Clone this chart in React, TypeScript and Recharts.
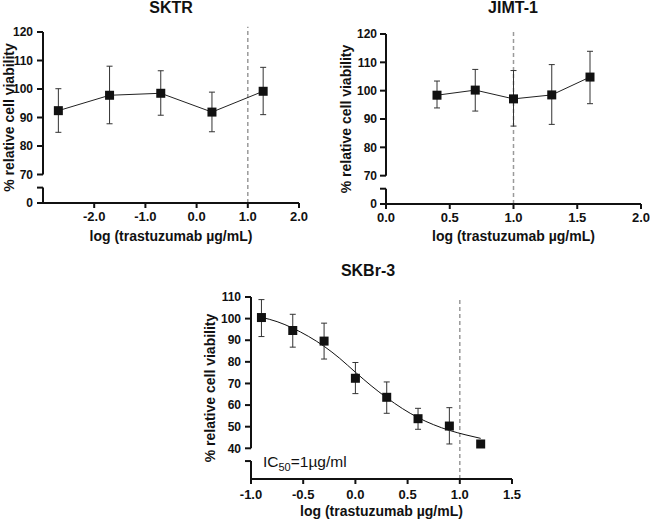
import React from 'react';
import { ComposedChart, Line, XAxis, YAxis, ErrorBar, ReferenceLine } from 'recharts';

const FONT = '"Liberation Sans", Arial, Helvetica, sans-serif';
const INK = '#111';

// SKTR
const sktrDose = [-2.7, -1.7, -0.7, 0.3, 1.3];
const sktrMean = [92.4, 97.8, 98.5, 91.9, 99.2];
const sktrLow = [84.8, 87.8, 90.8, 85.0, 91.0];
const sktrHigh = [100.1, 108.0, 106.4, 98.9, 107.6];
const sktrXTicks = [-2, -1, 0, 1, 2];

// JIMT-1
const jimtDose = [0.4, 0.7, 1.0, 1.3, 1.6];
const jimtMean = [98.4, 100.2, 97.1, 98.5, 104.8];
const jimtLow = [93.9, 92.8, 87.5, 88.1, 95.4];
const jimtHigh = [103.4, 107.5, 107.1, 109.2, 113.9];
const jimtXTicks = [0, 0.5, 1, 1.5, 2];

// SKBr-3
const skbrDose = [-0.9, -0.6, -0.3, 0.0, 0.3, 0.6, 0.9, 1.2];
const skbrMean = [100.5, 94.5, 89.6, 72.4, 63.6, 53.7, 50.3, 42.0];
const skbrLow = [91.7, 86.8, 81.3, 65.3, 56.2, 48.8, 42.0, 41.2];
const skbrHigh = [108.8, 102.0, 97.9, 79.7, 70.7, 58.5, 58.8, 43.6];
// fitted curve
const skbrFitDose = [-0.9, -0.75, -0.6, -0.45, -0.3, -0.15, 0, 0.15, 0.3, 0.45, 0.6, 0.75, 0.9, 1.05, 1.2];
const skbrFit = [100.6, 98.6, 95.6, 91.8, 87.2, 81.6, 75.2, 69.0, 63.4, 58.4, 54.2, 50.9, 48.3, 46.3, 44.6];
const skbrXTicks = [-1, -0.5, 0, 0.5, 1, 1.5];

const topYTicks = [70, 80, 90, 100, 110, 120];
const skbrYTicks = [40, 50, 60, 70, 80, 90, 100, 110];

const X_LABEL = 'log (trastuzumab µg/mL)';
const Y_LABEL = '% relative cell viability';

const toRows = (dose: number[], mean: number[], low: number[], high: number[]) =>
  dose.map((x, i) => ({ x, y: mean[i], err: [mean[i] - low[i], high[i] - mean[i]] }));

const squareDot = (props: any) => {
  const { cx, cy, index } = props;
  if (cx == null || cy == null) return <g key={index} />;
  return <rect key={index} x={cx - 4.5} y={cy - 4.5} width={9} height={9} fill={INK} />;
};

const xTickStyle = { fontSize: 13, fontWeight: 700, fill: INK, fontFamily: FONT };
const yTickStyle = { fontSize: 12, fontWeight: 700, fill: INK, fontFamily: FONT };
const labelStyle = { fontSize: 14, fontWeight: 700, fill: INK, fontFamily: FONT };

type PanelProps = {
  left: number;
  top: number;
  width: number;
  height: number;
  margin: { top: number; right: number; bottom: number; left: number };
  yAxisWidth: number;
  xAxisHeight: number;
  xDomain: [number, number];
  xTicks: number[];
  yBase: number; // fake value where the x axis sits (below the break)
  yCap: number; // top of the short segment below the break
  yResume: number; // where the main axis starts again
  yTop: number;
  yTicks: number[];
  zeroLabel: string;
  rows: { x: number; y: number; err: number[] }[];
  fit?: { x: number; y: number }[];
  dashTop: number;
  yLabelOffset: number;
  xLabelOffset: number;
  xTickMargin: number;
  yTickMargin: number;
};

const Panel = (p: PanelProps) => {
  const x0 = p.xDomain[0];
  const ticks = [...(p.zeroLabel ? [p.yBase] : []), p.yCap, ...p.yTicks];
  return (
    <div style={{ position: 'absolute', left: p.left, top: p.top }}>
      <ComposedChart width={p.width} height={p.height} margin={p.margin}>
        <XAxis
          type="number"
          dataKey="x"
          domain={p.xDomain}
          ticks={p.xTicks}
          allowDataOverflow
          tickFormatter={(v: number) => v.toFixed(1)}
          tick={xTickStyle}
          tickSize={5}
          tickMargin={p.xTickMargin}
          height={p.xAxisHeight}
          axisLine={{ stroke: INK, strokeWidth: 2 }}
          tickLine={{ stroke: INK, strokeWidth: 2 }}
          label={{ value: X_LABEL, position: 'insideBottom', offset: p.xLabelOffset, style: labelStyle }}
        />
        <YAxis
          type="number"
          domain={[p.yBase, p.yTop]}
          ticks={ticks}
          allowDataOverflow
          tickFormatter={(v: number) => (v === p.yBase ? p.zeroLabel : v === p.yCap ? '' : String(v))}
          tick={yTickStyle}
          tickSize={6}
          tickMargin={p.yTickMargin}
          width={p.yAxisWidth}
          axisLine={false}
          tickLine={{ stroke: INK, strokeWidth: 2 }}
          label={{
            value: Y_LABEL,
            angle: -90,
            position: 'insideLeft',
            offset: p.yLabelOffset,
            style: { ...labelStyle, textAnchor: 'middle' },
          }}
        />
        <ReferenceLine
          segment={[{ x: x0, y: p.yResume }, { x: x0, y: p.yTop }]}
          stroke={INK}
          strokeWidth={2}
          ifOverflow="visible"
        />
        <ReferenceLine
          segment={[{ x: x0, y: p.yBase }, { x: x0, y: p.yCap }]}
          stroke={INK}
          strokeWidth={2}
          ifOverflow="visible"
        />
        <ReferenceLine
          segment={[{ x: 1, y: p.yBase }, { x: 1, y: p.dashTop }]}
          stroke="#9a9a9a"
          strokeWidth={1.5}
          strokeDasharray="4 3"
          ifOverflow="visible"
        />
        {p.fit && (
          <Line
            data={p.fit}
            dataKey="y"
            type="monotone"
            stroke={INK}
            strokeWidth={1}
            dot={false}
            isAnimationActive={false}
          />
        )}
        <Line
          data={p.rows}
          dataKey="y"
          type="linear"
          stroke={p.fit ? 'none' : '#222'}
          strokeWidth={1}
          dot={squareDot}
          activeDot={false}
          isAnimationActive={false}
        >
          <ErrorBar dataKey="err" direction="y" width={3} stroke="#333" strokeWidth={1} isAnimationActive={false} />
        </Line>
      </ComposedChart>
    </div>
  );
};

export default function App() {
  const sktrRows = toRows(sktrDose, sktrMean, sktrLow, sktrHigh);
  const jimtRows = toRows(jimtDose, jimtMean, jimtLow, jimtHigh);
  const skbrRows = toRows(skbrDose, skbrMean, skbrLow, skbrHigh);
  const skbrCurve = skbrFitDose.map((x, i) => ({ x, y: skbrFit[i] }));

  return (
    <div style={{ position: 'absolute', left: 0, top: 0, width: 650, height: 528, background: '#fff' }}>
      <Panel
        left={0}
        top={0}
        width={325}
        height={250}
        margin={{ top: 32, right: 26, bottom: 0, left: 0 }}
        yAxisWidth={43}
        xAxisHeight={47}
        xDomain={[-3, 2]}
        xTicks={sktrXTicks}
        yBase={60}
        yCap={65.4}
        yResume={70}
        yTop={120}
        yTicks={topYTicks}
        zeroLabel="0"
        rows={sktrRows}
        dashTop={121.8}
        yLabelOffset={9}
        xLabelOffset={9}
        xTickMargin={4}
        yTickMargin={4}
      />
      <Panel
        left={325}
        top={0}
        width={325}
        height={250}
        margin={{ top: 34, right: 9, bottom: 0, left: 0 }}
        yAxisWidth={61}
        xAxisHeight={46}
        xDomain={[0, 2]}
        xTicks={jimtXTicks}
        yBase={60}
        yCap={65.4}
        yResume={70}
        yTop={120}
        yTicks={topYTicks}
        zeroLabel="0"
        rows={jimtRows}
        dashTop={121.8}
        yLabelOffset={21}
        xLabelOffset={9}
        xTickMargin={4}
        yTickMargin={3}
      />
      <Panel
        left={160}
        top={260}
        width={370}
        height={268}
        margin={{ top: 37, right: 18, bottom: 0, left: 0 }}
        yAxisWidth={91}
        xAxisHeight={49}
        xDomain={[-1, 1.5]}
        xTicks={skbrXTicks}
        yBase={25.8}
        yCap={34.1}
        yResume={40}
        yTop={110}
        yTicks={skbrYTicks}
        zeroLabel=""
        rows={skbrRows}
        fit={skbrCurve}
        dashTop={110}
        yLabelOffset={50}
        xLabelOffset={12}
        xTickMargin={6}
        yTickMargin={4}
      />
      <svg
        width={650}
        height={528}
        style={{ position: 'absolute', left: 0, top: 0, pointerEvents: 'none' }}
        fontFamily={FONT}
      >
        <text x={171} y={12.5} textAnchor="middle" fontSize={16} fontWeight={700} fill={INK}>
          SKTR
        </text>
        <text x={513} y={13.3} textAnchor="middle" fontSize={16} fontWeight={700} fill={INK}>
          JIMT-1
        </text>
        <text x={368} y={276} textAnchor="middle" fontSize={16} fontWeight={700} fill={INK}>
          SKBr-3
        </text>
        <text x={263} y={467} fontSize={15.5} fill={INK}>
          IC
          <tspan fontSize={11} dy={3.5}>50</tspan>
          <tspan dy={-3.5}>=1µg/ml</tspan>
        </text>
      </svg>
    </div>
  );
}
